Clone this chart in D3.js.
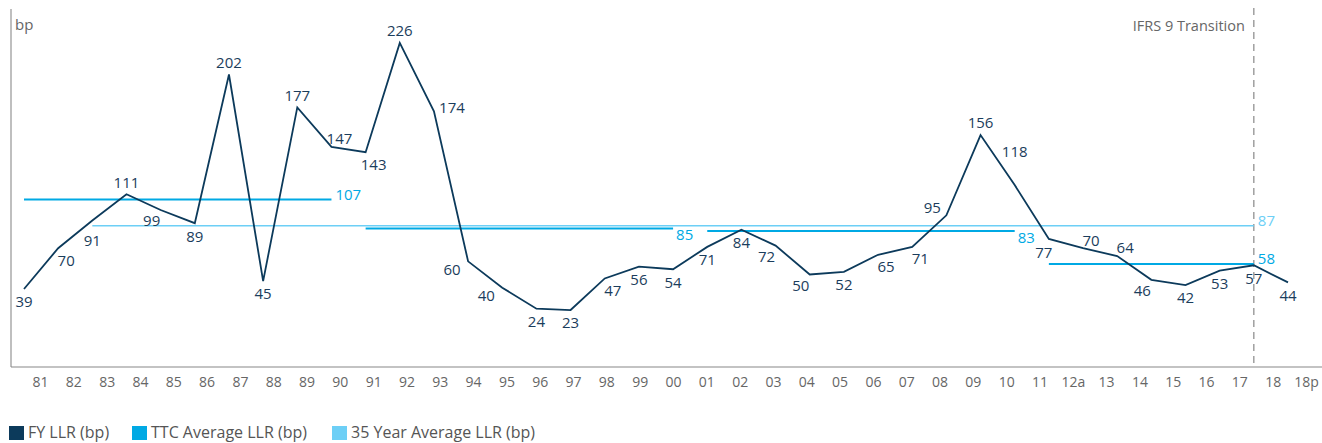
<!DOCTYPE html>
<html>
<head>
  <meta charset="utf-8">
  <script src="https://d3js.org/d3.v7.min.js"></script>
  <style>
    body { margin: 0; background: #fff; }
    text { font-family: "Open Sans", "Noto Sans", sans-serif; }
  </style>
</head>
<body>
<script type="text/javascript">

  /* data */
  var tickLabels = ["81","82","83","84","85","86","87","88","89","90","91","92","93","94","95","96","97","98","99",
                    "00","01","02","03","04","05","06","07","08","09","10","11","12a","13","14","15","16","17","18","18p"];
  var dataYears = tickLabels.slice(0, 38);
  var fyLLR = [39,70,91,111,99,89,202,45,177,147,143,226,174,60,40,24,23,47,56,54,
               71,84,72,50,52,65,71,95,156,118,77,70,64,46,42,53,57,44];
  // where each value label sits relative to its point
  var labelPlace = ["b","br","bb","a","bl","b","a","b","a","ar","br","a","r","l","l","b","b","br","b","b",
                    "b","b","bl","bl","b","br","br","al","a","aa","bl2","ar","ar","bl","b","b","b","b"];

  var ttcAvg = [
    {from: "81", to: "90", value: 107, place: "r"},
    {from: "91", to: "00", value: 85,  place: "rb"},
    {from: "01", to: "10", value: 83,  place: "rb"},
    {from: "11", to: "17", value: 58,  place: "r"}
  ];
  var longAvg = [{from: "83", to: "17", value: 87, place: "r"}];
  var transitionYear = "17";

  var legendItems = ["FY LLR (bp)", "TTC Average LLR (bp)", "35 Year Average LLR (bp)"];

  /* style */
  var W = 1322, H = 443;
  var navy = "#0c3a5b", ttcBlue = "#00a9e4", lightBlue = "#6dcff6", textGrey = "#666";
  var legendColors = [navy, ttcBlue, lightBlue];

  var svg = d3.select("body").append("svg")
      .attr("width", W).attr("height", H);

  var x = d3.scalePoint().domain(dataYears).range([24, 1288]);
  var xTick = d3.scalePoint().domain(tickLabels).range([40, 1306]);
  var y = d3.scaleLinear().domain([-20.3, 251.8]).range([367, 9]);

  /* axes */
  svg.append("line")
     .attr("x1", 11).attr("x2", 11).attr("y1", y.range()[1]).attr("y2", y.range()[0])
     .attr("stroke", "#aaa").attr("stroke-width", 1.5);
  svg.append("line")
     .attr("x1", 11).attr("x2", W).attr("y1", 367).attr("y2", 367)
     .attr("stroke", "#888").attr("stroke-width", 1.2);

  var xAxis = svg.append("g")
      .attr("transform", "translate(0,367)")
      .call(d3.axisBottom(xTick).tickSize(0).tickPadding(10));
  xAxis.select(".domain").remove();
  xAxis.selectAll("text")
       .attr("font-family", "Open Sans").attr("font-size", 14).attr("fill", textGrey);

  svg.append("text").attr("x", 15).attr("y", 30)
     .attr("font-size", 15).attr("fill", textGrey).text("bp");

  /* IFRS 9 transition */
  svg.append("line")
     .attr("x1", x(transitionYear)).attr("x2", x(transitionYear))
     .attr("y1", 8).attr("y2", 367)
     .attr("stroke", "#888").attr("stroke-width", 1.2).attr("stroke-dasharray", "7,5");
  svg.append("text")
     .attr("x", x(transitionYear) - 9).attr("y", 31)
     .attr("text-anchor", "end").attr("font-size", 14.5).attr("fill", textGrey)
     .text("IFRS 9 Transition");

  /* average lines */
  function avgLines(data, color, width) {
    var g = svg.append("g");
    g.selectAll("line").data(data).enter().append("line")
     .attr("x1", function(d) { return x(d.from); })
     .attr("x2", function(d) { return x(d.to); })
     .attr("y1", function(d) { return y(d.value); })
     .attr("y2", function(d) { return y(d.value); })
     .attr("stroke", color).attr("stroke-width", width);
    g.selectAll("text").data(data).enter().append("text")
     .attr("x", function(d) { return x(d.to) + (d.place == "rb" ? 3 : 4); })
     .attr("y", function(d) { return y(d.value) + (d.place == "rb" ? 12 : 0); })
     .attr("font-size", 15).attr("fill", color)
     .text(function(d) { return d.value; });
  }
  avgLines(longAvg, lightBlue, 1.5);
  avgLines(ttcAvg, ttcBlue, 2);

  /* FY line */
  var line = d3.line()
      .x(function(d, i) { return x(dataYears[i]); })
      .y(function(d) { return y(d); });

  svg.append("path").datum(fyLLR)
     .attr("d", line)
     .attr("fill", "none").attr("stroke", navy).attr("stroke-width", 1.8)
     .attr("stroke-linejoin", "miter");

  var offsets = {
    a:  [0, -12], aa: [0, -33], b: [0, 13], bb: [0, 20],
    bl: [-9, 11], bl2: [-5, 14], br: [8, 12], ar: [8, -8], al: [-14, -8],
    r:  [18, -4], l: [-16, 8]
  };

  svg.append("g").selectAll("text")
     .data(fyLLR).enter().append("text")
     .attr("x", function(d, i) { return x(dataYears[i]) + offsets[labelPlace[i]][0]; })
     .attr("y", function(d, i) { return y(d) + offsets[labelPlace[i]][1]; })
     .attr("dy", "0.36em")
     .attr("text-anchor", "middle")
     .attr("font-size", 15).attr("fill", "#1b3d5c")
     .text(function(d) { return d; });

  /* legend */
  var legendX = [9, 132, 332];
  var legend = svg.append("g");
  legend.selectAll("rect").data(legendItems).enter().append("rect")
        .attr("x", function(d, i) { return legendX[i]; })
        .attr("y", 426).attr("width", 15).attr("height", 14)
        .attr("fill", function(d, i) { return legendColors[i]; });
  legend.selectAll("text").data(legendItems).enter().append("text")
        .attr("x", function(d, i) { return legendX[i] + 19; })
        .attr("y", 438)
        .attr("font-size", 16).attr("fill", "#555")
        .text(function(d) { return d; });

</script>
</body>
</html>
